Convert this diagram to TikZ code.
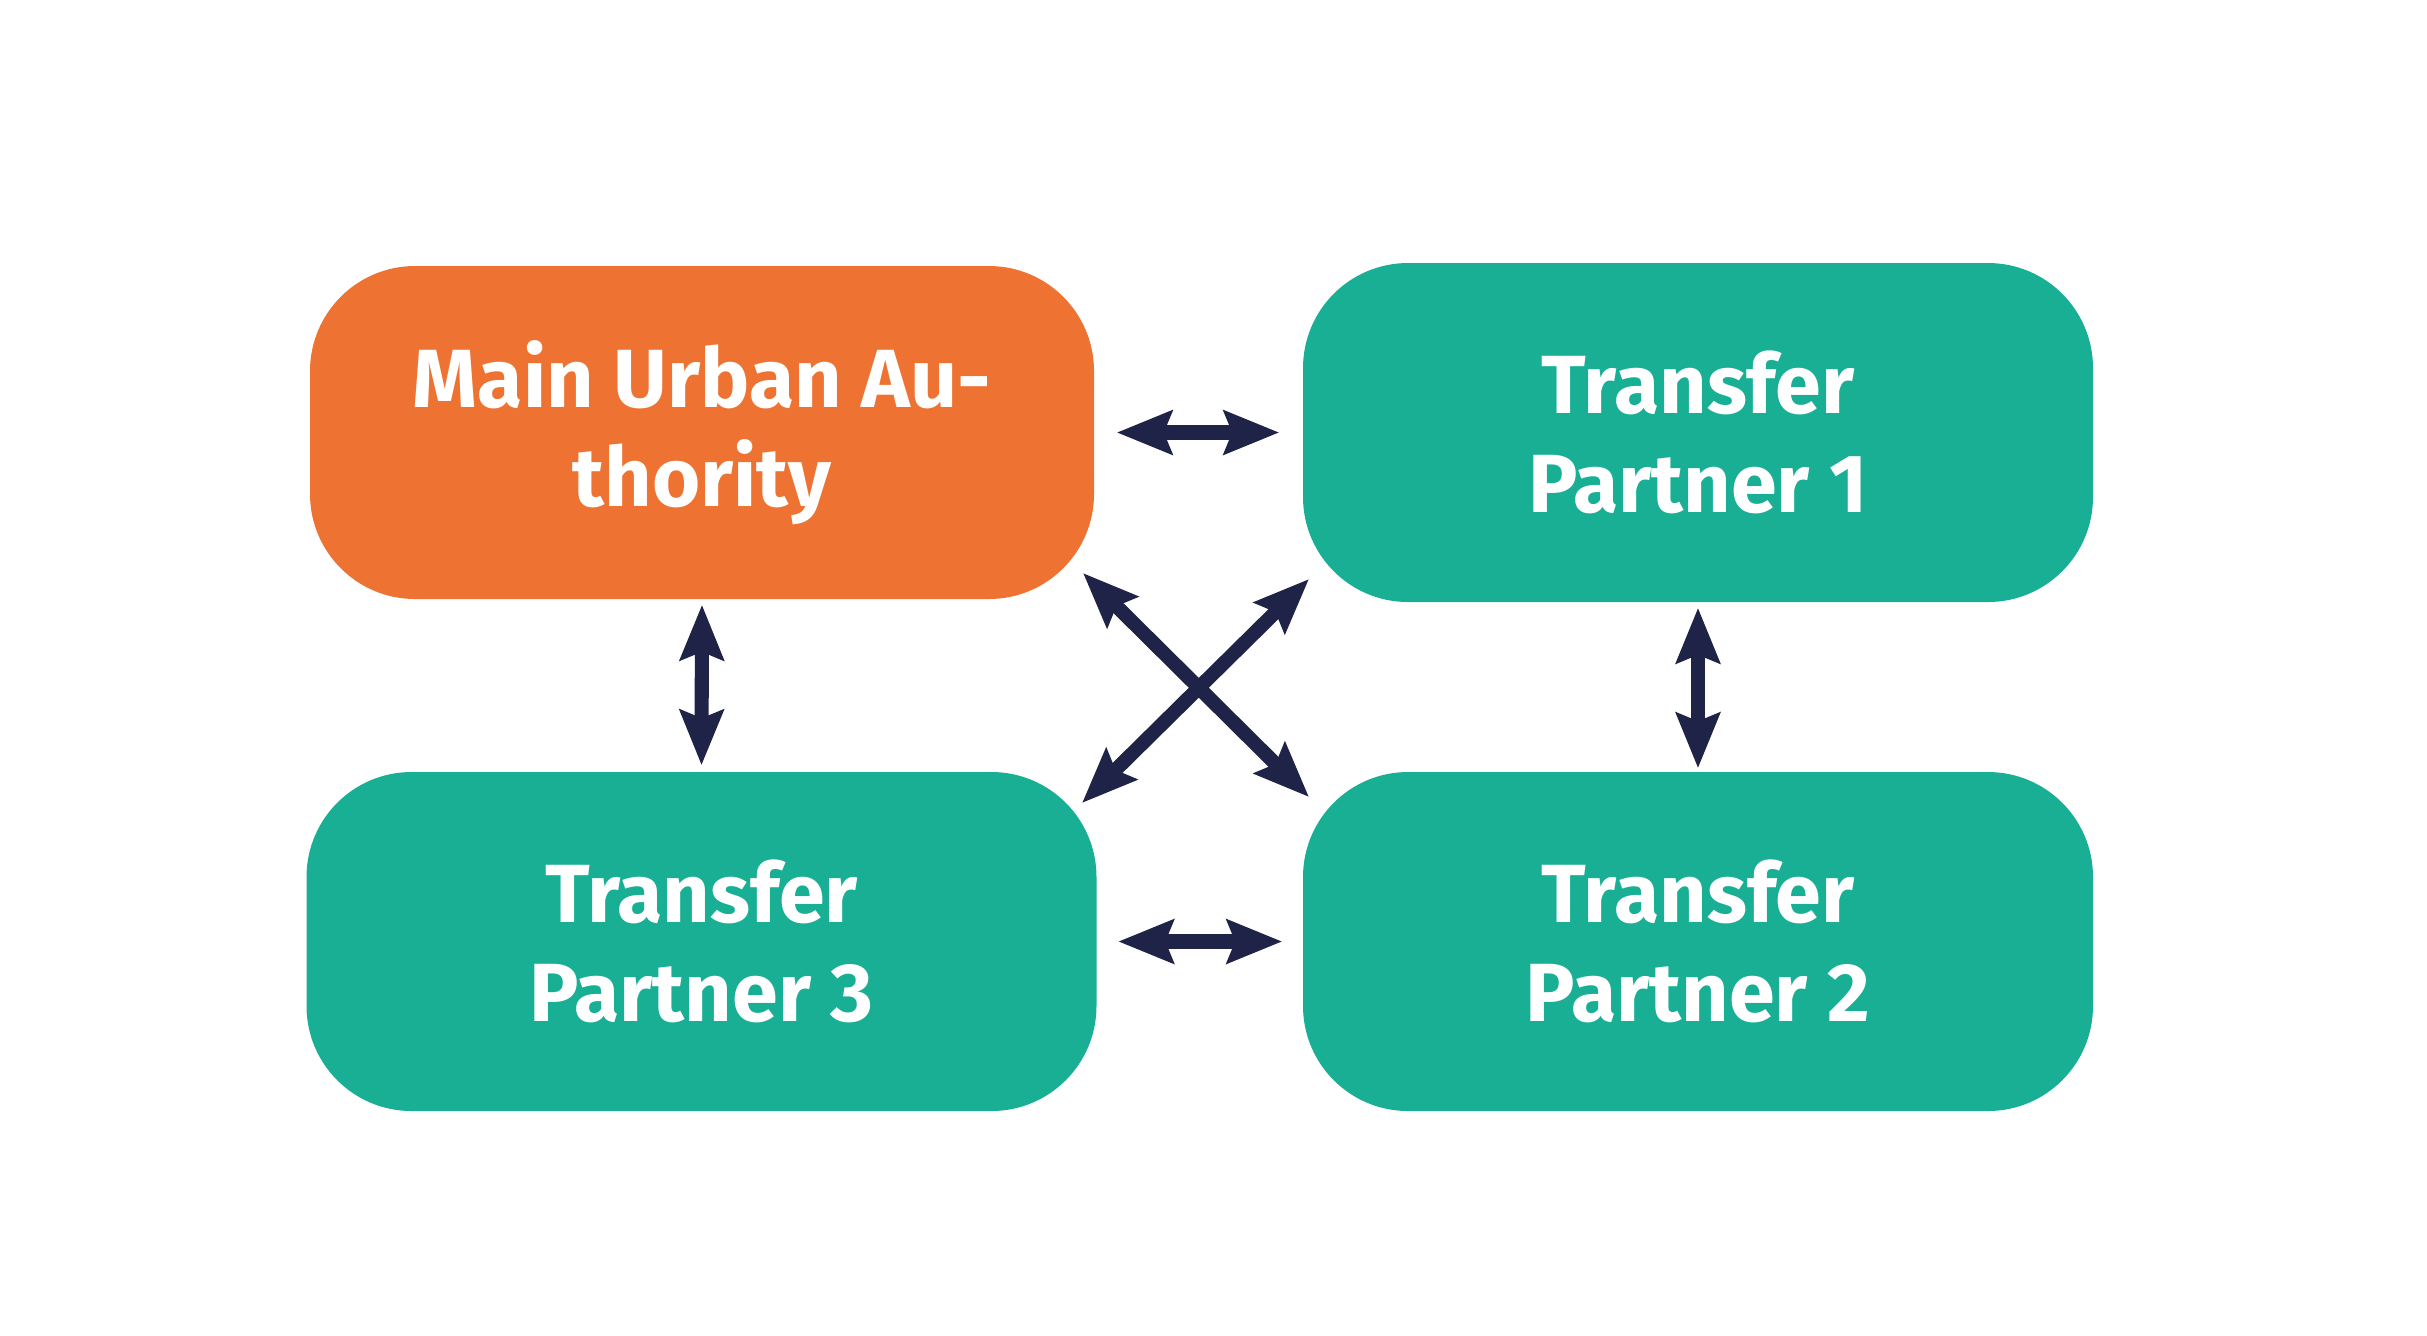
\documentclass[tikz,border=0pt]{standalone}
\usepackage{fontspec}
\setmainfont{Fira Sans}
\usetikzlibrary{arrows.meta,positioning}
\definecolor{Orange}{HTML}{EE7332}
\definecolor{Teal}{HTML}{18AF95}
\definecolor{Ink}{HTML}{1F2347}

\begin{document}
\begin{tikzpicture}[
  box/.style={rounded corners=1.05cm,minimum width=7.9cm,minimum height=3.39cm,
    align=center,text=white,font=\fontsize{23.5}{28}\selectfont\bfseries},
  link/.style={Ink,line width=4pt,
    {Stealth[length=5.5mm,width=4.3mm,inset=0.8mm]}-{Stealth[length=5.5mm,width=4.3mm,inset=0.8mm]}}
]
\useasboundingbox (0,0) rectangle (24.27,-13.35);

% Authority and its partners.
\node[box,fill=Orange,minimum width=7.84cm,minimum height=3.33cm] (mua) at (7.02,-4.325)
  {Main Urban Au-\\thority};
\node[box,fill=Teal] (tpone) at (16.98,-4.325) {Transfer\\Partner 1};
\node[box,fill=Teal] (tpthree) at (7.015,-9.415) {Transfer\\Partner 3};
\node[box,fill=Teal] (tptwo) at (16.98,-9.415) {Transfer\\Partner 2};

% Exchanges between them.
\draw[link,shorten <=0.22cm,shorten >=0.23cm] (mua.east) -- (tpone.west);
\draw[link,shorten <=0.21cm,shorten >=0.20cm] (tpthree.east) -- (tptwo.west);
\draw[link,shorten <=0.05cm,shorten >=0.06cm] (mua.south) -- (tpthree.north);
\draw[link,shorten <=0.05cm,shorten >=0.03cm] (tpone.south) -- (tptwo.north);

\coordinate (ulft) at (10.83,-5.73);
\coordinate (lrgt) at (13.09,-7.97);
\coordinate (urgt) at (13.09,-5.79);
\coordinate (llft) at (10.82,-8.03);
\draw[link] (ulft) -- (lrgt);
\draw[link] (urgt) -- (llft);
\end{tikzpicture}
\end{document}
